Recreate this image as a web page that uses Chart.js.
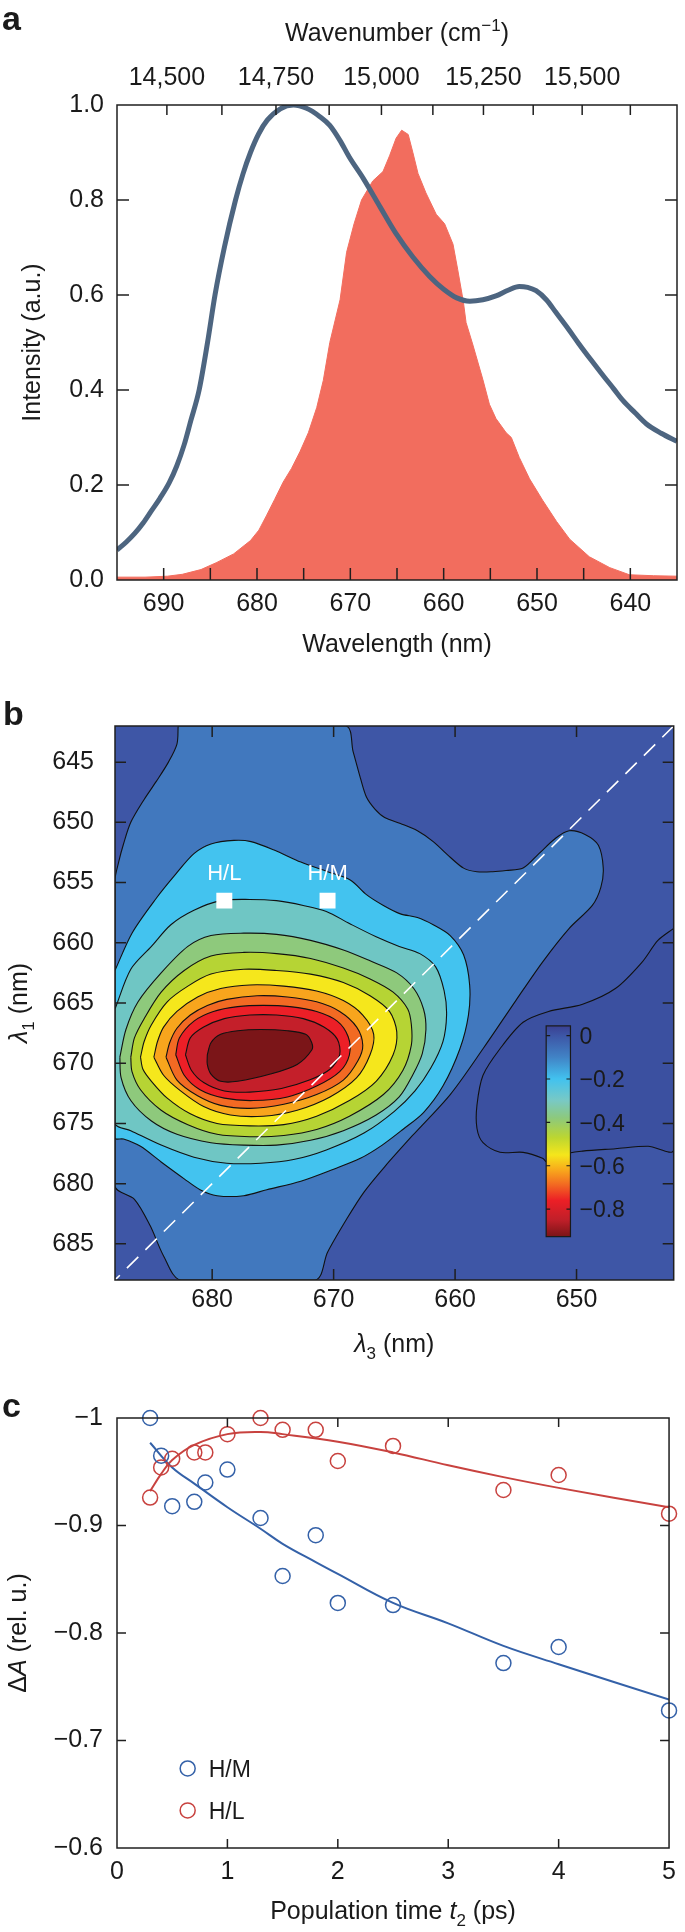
<!DOCTYPE html>
<html>
<head>
<meta charset="utf-8">
<script src="https://cdn.jsdelivr.net/npm/chart.js@4"></script>
<style>
  body { margin: 0; background: #fff; width: 685px; height: 1932px; position: relative; overflow: hidden; }
  canvas { position: absolute; left: 0; }
</style>
</head>
<body>
<canvas id="chartA" width="685" height="690" style="top:0px"></canvas>
<canvas id="chartB" width="685" height="670" style="top:690px"></canvas>
<canvas id="chartC" width="685" height="572" style="top:1360px"></canvas>
<script>
// ---------- panel a: absorption (blue) and laser spectrum (red) ----------
const absWl = [695.0, 694.0, 693.1, 692.2, 691.3, 690.4, 689.4, 688.6, 687.8, 687.1, 686.2, 685.3, 684.5, 683.5, 682.3, 681.5, 680.7, 679.8, 678.9, 677.5, 676.1, 674.7, 673.3, 672.2, 671.1, 670.1, 668.6, 666.8, 665.1, 663.3, 661.5, 660.0, 658.6, 657.2, 655.8, 654.4, 653.1, 651.9, 651.0, 650.1, 649.0, 648.0, 646.7, 645.5, 644.2, 642.9, 641.8, 640.8, 639.5, 638.3, 636.7, 635.0];
const absVal = [0.063, 0.08, 0.098, 0.12, 0.146, 0.172, 0.205, 0.24, 0.285, 0.335, 0.40, 0.50, 0.60, 0.70, 0.80, 0.855, 0.90, 0.94, 0.968, 0.992, 1.0, 0.993, 0.976, 0.957, 0.925, 0.89, 0.845, 0.785, 0.729, 0.68, 0.639, 0.612, 0.594, 0.587, 0.590, 0.598, 0.610, 0.618, 0.616, 0.609, 0.59, 0.564, 0.53, 0.497, 0.463, 0.43, 0.403, 0.378, 0.352, 0.329, 0.309, 0.292];
const laserWl = [695.0, 692.0, 689.6, 688.0, 686.0, 684.3, 682.5, 680.7, 679.8, 679.0, 678.1, 677.2, 676.3, 675.4, 674.5, 673.6, 672.9, 672.2, 671.1, 670.4, 669.6, 668.8, 667.6, 666.5, 665.8, 665.1, 664.5, 663.8, 663.3, 662.75, 661.9, 660.8, 659.9, 659.0, 658.5, 657.9, 657.6, 656.9, 655.8, 655.1, 654.4, 653.3, 652.75, 651.9, 650.8, 649.4, 647.9, 646.5, 644.4, 642.2, 640.1, 637.5, 635.0];
const laserVal = [0.006, 0.006, 0.008, 0.012, 0.022, 0.037, 0.055, 0.083, 0.105, 0.135, 0.17, 0.206, 0.235, 0.27, 0.31, 0.363, 0.42, 0.50, 0.59, 0.69, 0.75, 0.80, 0.84, 0.86, 0.893, 0.93, 0.947, 0.938, 0.90, 0.856, 0.815, 0.77, 0.75, 0.707, 0.654, 0.587, 0.542, 0.497, 0.422, 0.37, 0.34, 0.31, 0.30, 0.258, 0.213, 0.168, 0.123, 0.086, 0.049, 0.026, 0.011, 0.009, 0.008];
const wlTicks = [640, 645, 650, 655, 660, 665, 670, 675, 680, 685, 690];
const wnTicks = [14500, 14625, 14750, 14875, 15000, 15125, 15250, 15375, 15500, 15625];
const intTicks = [0, 0.2, 0.4, 0.6, 0.8, 1.0];

// ---------- panel b: 2D map, contour outlines [lambda3, lambda1] ----------
const bRange = [642, 688];
const l1Ticks = [645, 650, 655, 660, 665, 670, 675, 680, 685];
const l3Ticks = [650, 660, 670, 680];
const peakNames = ['H/L', 'H/M'];
const peakL3 = [679.0, 670.5];
const peakL1 = [656.5, 656.5];
const cbTicks = [0, -0.2, -0.4, -0.6, -0.8];

const cMid = [[682.8,642],[682.9,643.5],[683.6,645.0],[684.6,646.6],[685.6,648.1],[686.7,650.0],[687.3,651.8],[687.7,653.3],[688,654.8],[688,680.2],[686.4,681.3],[685.1,683.5],[684.0,686.0],[682.6,688],[671.5,688],[670.5,685.7],[668.9,682.9],[667.5,680.7],[665.8,678.6],[663.5,676.0],[660.4,672.6],[657.7,668.8],[655.0,664.8],[652.8,661.6],[650.6,658.8],[648.7,656.9],[648.0,655.4],[647.8,653.8],[648.2,651.9],[649.3,651.0],[650.6,650.7],[651.7,651.3],[653.1,652.6],[654.4,653.8],[655.8,654.0],[656.9,654.1],[658.2,654.1],[659.3,653.8],[660.4,652.9],[661.8,651.6],[663.1,650.7],[664.5,650.1],[665.8,649.6],[666.6,648.9],[667.3,647.9],[667.8,646.3],[668.4,644.1],[669.0,642]];
const cPos = [[642,658.8],[643.3,659.8],[644.6,661.6],[646.8,663.8],[649.5,665.1],[652.3,665.7],[654.4,666.6],[656.3,668.8],[657.7,671.0],[658.2,673.5],[658.2,675.4],[657.7,676.6],[656.3,677.4],[654.4,677.4],[652.8,677.9],[652.3,678.3],[651.2,677.6],[649.5,677.3],[646.8,677.1],[644.1,676.9],[642,677.2]];
const cCyan = [[688,662.3],[686.6,659.2],[684.6,656.3],[683.0,654.3],[681.5,652.6],[680.1,651.8],[678.2,651.5],[676.8,651.6],[674.9,652.3],[672.7,653.3],[670.5,654.1],[668.6,654.8],[667.3,656.0],[665.9,656.9],[664.5,657.6],[663.1,657.9],[661.8,658.5],[660.4,659.4],[659.3,661.0],[658.8,663.5],[658.9,666.0],[659.6,668.8],[661.0,671.9],[662.6,674.1],[664.3,675.5],[666.0,676.8],[667.8,677.9],[670.0,678.8],[672.7,679.8],[675.5,680.5],[677.4,681.0],[679.6,681.0],[681.0,680.5],[682.3,679.6],[684.2,678.2],[685.9,676.9],[687.3,676.3],[688,676.2]];
const cTeal = [[688,665.5],[686.7,662.2],[685.0,660.3],[683.4,658.5],[681.5,657.3],[679.3,656.5],[676.9,656.4],[674.7,656.5],[672.5,656.9],[670.6,657.4],[668.7,658.4],[666.5,659.5],[664.6,660.3],[662.9,660.9],[661.6,662.0],[660.9,664.0],[660.7,666.0],[661.0,668.2],[662.0,670.4],[663.3,672.3],[665.0,674.0],[667.5,675.8],[670.6,677.2],[673.3,678.0],[676.0,678.3],[678.8,678.3],[681.5,677.8],[684.2,676.8],[686.7,675.6],[688,675.0]];
const cGreen = [[687.6,669.5],[687.1,667.2],[686.1,664.9],[684.2,662.5],[682.0,660.3],[680.1,659.4],[677.4,659.2],[674.7,659.3],[671.9,659.8],[669.2,660.6],[667.0,661.5],[664.8,662.5],[663.4,663.8],[662.6,665.5],[662.4,667.2],[662.7,669.2],[663.5,671.0],[664.6,672.8],[666.5,674.3],[669.2,675.6],[671.9,676.4],[674.7,676.8],[677.4,676.8],[680.1,676.6],[682.9,675.9],[685.0,674.8],[686.7,673.1],[687.5,671.2]];
const cLime = [[686.7,669.5],[686.4,667.9],[685.6,666.3],[684.2,664.1],[682.3,662.3],[680.1,661.1],[677.4,660.8],[674.7,660.9],[671.9,661.3],[669.2,662.1],[667.0,663.0],[665.1,664.1],[663.9,665.5],[663.6,666.8],[663.6,668.5],[664.3,670.6],[665.9,672.6],[668.7,674.4],[671.4,675.5],[674.1,676.0],[676.9,676.1],[679.6,675.9],[682.0,675.1],[684.2,673.9],[685.9,672.2],[686.6,670.7]];
const cYellow = [[685.9,669.5],[685.6,668.2],[685.0,666.8],[683.7,664.9],[682.0,663.6],[680.1,662.6],[677.4,662.2],[674.7,662.3],[671.9,662.6],[669.2,663.3],[667.0,664.4],[665.4,665.7],[664.8,667.4],[665.1,669.3],[666.5,671.5],[668.7,673.1],[671.4,674.4],[674.1,675.1],[676.9,675.2],[679.6,675.0],[681.8,674.2],[683.7,672.9],[685.0,671.5],[685.7,670.5]];
const cOrange = [[684.8,669.5],[684.5,668.2],[684.0,667.0],[682.9,665.7],[681.2,664.5],[679.3,663.8],[676.9,663.5],[674.1,663.6],[671.4,664.0],[669.2,664.8],[667.6,666.0],[666.7,667.6],[667.0,669.3],[668.1,671.2],[670.3,672.8],[673.0,673.9],[675.8,674.4],[678.5,674.3],[680.7,673.6],[682.6,672.3],[684.0,671.0]];
const cDkOrange = [[683.8,669.5],[683.5,668.3],[682.9,667.1],[681.8,666.0],[680.4,665.2],[678.8,664.7],[676.3,664.4],[673.8,664.5],[671.4,664.9],[669.5,665.7],[668.1,667.0],[667.6,668.5],[668.0,669.8],[669.2,671.4],[671.4,672.6],[674.1,673.4],[676.9,673.75],[679.3,673.5],[681.2,672.7],[682.9,671.4]];
const cRed = [[683.0,669.3],[682.7,667.9],[681.5,666.5],[679.9,665.7],[677.9,665.3],[675.8,665.2],[673.6,665.3],[671.4,665.7],[669.7,666.5],[668.8,667.8],[668.7,669.3],[669.5,670.7],[671.4,671.9],[673.8,672.8],[676.6,673.1],[679.0,672.9],[681.0,672.2],[682.3,671.0]];
const cCrimson = [[682.2,669.3],[681.8,667.9],[680.7,667.0],[679.0,666.3],[676.9,666.0],[674.7,666.0],[672.5,666.3],[670.8,667.0],[669.7,668.0],[669.5,669.3],[670.3,670.5],[672.0,671.4],[674.3,672.1],[676.9,672.4],[679.0,672.3],[680.7,671.6],[681.7,670.6]];
const cCore = [[680.4,669.3],[680.1,668.3],[679.3,667.6],[677.9,667.3],[676.0,667.2],[673.8,667.3],[672.3,667.6],[671.8,668.3],[671.8,668.9],[673.0,670.1],[675.2,670.9],[677.9,671.5],[679.3,671.5],[680.1,670.9],[680.4,670.1]];

// ---------- panel c: kinetics ----------
const tPts = [0.3, 0.4, 0.5, 0.7, 0.8, 1.0, 1.3, 1.5, 1.8, 2.0, 2.5, 3.5, 4.0, 5.0];
const hmVals = [-1.0, -0.965, -0.918, -0.922, -0.940, -0.952, -0.907, -0.853, -0.891, -0.828, -0.826, -0.772, -0.787, -0.728];
const hlVals = [-0.926, -0.954, -0.962, -0.968, -0.968, -0.985, -1.0, -0.989, -0.989, -0.960, -0.974, -0.933, -0.947, -0.911];
const hmFitT = [0.3, 0.5, 0.7, 1.0, 1.3, 1.5, 1.8, 2.0, 2.5, 3.0, 3.5, 4.0, 5.0];
const hmFit = [-0.977, -0.954, -0.939, -0.917, -0.897, -0.883, -0.866, -0.855, -0.828, -0.809, -0.788, -0.771, -0.738];
const hlFitT = [0.3, 0.4, 0.5, 0.7, 1.0, 1.3, 1.5, 2.0, 2.5, 3.0, 3.5, 4.0, 5.0];
const hlFit = [-0.932, -0.948, -0.961, -0.975, -0.985, -0.987, -0.985, -0.978, -0.968, -0.956, -0.945, -0.935, -0.917];
const seriesNames = ['H/M', 'H/L'];

// ---------- shared setup ----------
const FONT = '"Liberation Sans", Arial, Helvetica, sans-serif';
Chart.defaults.font.family = FONT;
Chart.defaults.font.size = 25;
Chart.defaults.color = '#1a1a1a';
Chart.defaults.animation = false;
Chart.defaults.responsive = false;
Chart.defaults.plugins.legend.display = false;
Chart.defaults.plugins.tooltip.enabled = false;

const BLUE = '#3461a8', RED = '#c8423f';

function pts(xs, ys) { return xs.map((x, i) => ({ x, y: ys[i] })); }
function loop(pairs) { const d = pairs.map(p => ({ x: p[0], y: p[1] })); d.push(d[0]); return d; }

// text with italic / sub / superscript parts: [text, flags] flags: I B _ ^
function rich(ctx, x, y, parts, size, align, rot) {
  size = size || 25; align = align || 'center';
  const segs = parts.map(p => {
    const t = Array.isArray(p) ? p[0] : p, f = Array.isArray(p) ? (p[1] || '') : '';
    const small = f.includes('_') || f.includes('^');
    const font = (f.includes('I') ? 'italic ' : '') + (f.includes('B') ? 'bold ' : '') + (small ? size * 0.68 : size) + 'px ' + FONT;
    ctx.font = font;
    return { t, font, w: ctx.measureText(t).width, dy: f.includes('_') ? size * 0.28 : f.includes('^') ? -size * 0.4 : 0 };
  });
  const total = segs.reduce((s, g) => s + g.w, 0);
  ctx.save();
  ctx.translate(x, y);
  if (rot) ctx.rotate(rot);
  ctx.textBaseline = 'alphabetic';
  ctx.textAlign = 'left';
  let cx = align === 'center' ? -total / 2 : align === 'right' ? -total : 0;
  segs.forEach(g => { ctx.font = g.font; ctx.fillText(g.t, cx, size * 0.36 + g.dy); cx += g.w; });
  ctx.restore();
}

// frame + inward tick marks
function frame(spec) {
  return {
    id: 'frame',
    afterDatasetsDraw(chart) {
      const { ctx, chartArea: a } = chart;
      ctx.save();
      ctx.strokeStyle = '#1f1f1f';
      ctx.lineWidth = 1.5;
      ctx.beginPath();
      spec.forEach(t => {
        const s = chart.scales[t.scale];
        s.ticks.forEach(tk => {
          const p = s.getPixelForValue(tk.value);
          if (s.isHorizontal()) {
            if (p < a.left + 2 || p > a.right - 2) return;
            t.sides.forEach(side => {
              const y0 = side === 'top' ? a.top : a.bottom;
              ctx.moveTo(p, y0); ctx.lineTo(p, side === 'top' ? y0 + t.len : y0 - t.len);
            });
          } else {
            if (p < a.top + 2 || p > a.bottom - 2) return;
            t.sides.forEach(side => {
              const x0 = side === 'left' ? a.left : a.right;
              ctx.moveTo(x0, p); ctx.lineTo(side === 'left' ? x0 + t.len : x0 - t.len, p);
            });
          }
        });
      });
      ctx.stroke();
      ctx.strokeRect(a.left, a.top, a.width, a.height);
      ctx.restore();
    }
  };
}
function notes(fn) { return { id: 'notes', afterDraw(chart) { chart.ctx.save(); chart.ctx.fillStyle = '#1a1a1a'; fn(chart, chart.ctx); chart.ctx.restore(); } }; }

const hideGrid = { display: false, drawTicks: false };
const noBorder = { display: false };

// ---------- chart a ----------
new Chart(document.getElementById('chartA'), {
  type: 'line',
  data: {
    datasets: [
      { data: pts(absWl, absVal), borderColor: '#4d6580', borderWidth: 5, pointRadius: 0, cubicInterpolationMode: 'monotone', fill: false },
      { data: pts(laserWl, laserVal), borderColor: '#f26d5e', backgroundColor: '#f26d5e', borderWidth: 1, pointRadius: 0, tension: 0, fill: 'origin' }
    ]
  },
  options: {
    layout: { padding: { left: 0, right: 8, top: 0, bottom: 0 } },
    scales: {
      x: {
        type: 'linear', position: 'bottom', min: 635, max: 695, reverse: true,
        afterBuildTicks: s => { s.ticks = wlTicks.map(v => ({ value: v })); },
        afterFit: s => { s.height = 110; },
        grid: hideGrid, border: noBorder,
        ticks: { padding: 9, autoSkip: false, maxRotation: 0, callback: v => (v % 10 === 0 ? String(v) : '') }
      },
      x2: {
        type: 'linear', position: 'top', min: 635, max: 695, reverse: true,
        afterBuildTicks: s => { s.ticks = wnTicks.map(w => ({ value: 1e7 / w })); },
        afterFit: s => { s.height = 105; },
        grid: hideGrid, border: noBorder,
        ticks: { padding: 12, autoSkip: false, maxRotation: 0, callback: (v, i) => (wnTicks[i] % 250 === 0 ? wnTicks[i].toLocaleString('en-US') : '') }
      },
      y: {
        type: 'linear', min: 0, max: 1,
        afterBuildTicks: s => { s.ticks = intTicks.map(v => ({ value: v })); },
        afterFit: s => { s.width = 117; },
        grid: hideGrid, border: noBorder,
        ticks: { padding: 13, callback: v => v.toFixed(1) }
      }
    }
  },
  plugins: [
    frame([{ scale: 'x', sides: ['bottom'], len: 12 }, { scale: 'x2', sides: ['top'], len: 10 }, { scale: 'y', sides: ['left', 'right'], len: 12 }]),
    notes((chart, ctx) => {
      const a = chart.chartArea, cx = (a.left + a.right) / 2;
      rich(ctx, 2, 18, [['a', 'B']], 34, 'left');
      rich(ctx, cx, 32, ['Wavenumber (cm', ['\u22121', '^'], ')']);
      rich(ctx, cx, 643, ['Wavelength (nm)']);
      rich(ctx, 31, (a.top + a.bottom) / 2, ['Intensity (a.u.)'], 25, 'center', -Math.PI / 2);
    })
  ]
});

// ---------- chart b ----------
const bands = [
  [cCore, '#7b1518'], [cCrimson, '#c41f2a'], [cRed, '#ec1f27'], [cDkOrange, '#f26a23'],
  [cOrange, '#f8a51d'], [cYellow, '#f5e71c'], [cLime, '#b6d434'], [cGreen, '#8ec97c'],
  [cTeal, '#6fc6c4'], [cCyan, '#43c3ef'], [cPos, '#3b50a0'], [cMid, '#4178be']
];
const cbStops = [[0.045, '#3a4092'], [0, '#3d56a6'], [-0.1, '#4183c6'], [-0.2, '#42c2ef'], [-0.3, '#79c9c4'], [-0.38, '#8dc97c'], [-0.47, '#bcd631'], [-0.55, '#f5e61b'], [-0.62, '#f8a81c'], [-0.68, '#f37021'], [-0.76, '#ec1f26'], [-0.85, '#c01f29'], [-0.927, '#7a1417']];

new Chart(document.getElementById('chartB'), {
  type: 'line',
  data: {
    datasets: [
      { data: bRange.map(v => ({ x: v, y: v })), borderColor: '#ffffff', borderWidth: 1.6, borderDash: [16, 10], pointRadius: 0, fill: false },
      { data: pts(peakL3, peakL1), showLine: false, pointStyle: 'rect', pointRadius: 11.3, pointBackgroundColor: '#ffffff', pointBorderWidth: 0 }
    ].concat(bands.map(([c, col]) => ({
      data: loop(c), borderColor: '#111', borderWidth: 1.1, backgroundColor: col, fill: 'shape', pointRadius: 0, tension: 0.3
    })))
  },
  options: {
    layout: { padding: { left: 0, right: 8, top: 28, bottom: 0 } },
    scales: {
      x: {
        type: 'linear', min: bRange[0], max: bRange[1], reverse: true,
        afterBuildTicks: s => { s.ticks = l3Ticks.map(v => ({ value: v })); },
        afterFit: s => { s.height = 80; },
        grid: hideGrid, border: noBorder,
        ticks: { padding: 5, autoSkip: false, maxRotation: 0, callback: v => String(v) }
      },
      y: {
        type: 'linear', min: bRange[0], max: bRange[1], reverse: true,
        afterBuildTicks: s => { s.ticks = l1Ticks.map(v => ({ value: v })); },
        afterFit: s => { s.width = 115; },
        grid: hideGrid, border: noBorder,
        ticks: { padding: 21, autoSkip: false, callback: v => String(v) }
      }
    }
  },
  plugins: [
    { id: 'bg', beforeDatasetsDraw(chart) { const { ctx, chartArea: a } = chart; ctx.save(); ctx.fillStyle = '#3e56a6'; ctx.fillRect(a.left, a.top, a.width, a.height); ctx.restore(); } },
    frame([{ scale: 'x', sides: ['bottom', 'top'], len: 11 }, { scale: 'y', sides: ['left', 'right'], len: 11 }]),
    notes((chart, ctx) => {
      const a = chart.chartArea, sx = chart.scales.x, sy = chart.scales.y;
      rich(ctx, 3, 23, [['b', 'B']], 34, 'left');
      rich(ctx, 18, (a.top + a.bottom) / 2, [['\u03bb', 'I'], ['1', '_'], ' (nm)'], 25, 'center', -Math.PI / 2);
      rich(ctx, (a.left + a.right) / 2, 653, [['\u03bb', 'I'], ['3', '_'], ' (nm)']);
      // peak labels
      ctx.fillStyle = '#ffffff';
      peakNames.forEach((n, i) => rich(ctx, sx.getPixelForValue(peakL3[i]), sy.getPixelForValue(peakL1[i]) - 29, [n], 22));
      // colour bar
      const x0 = sx.getPixelForValue(652.5), x1 = sx.getPixelForValue(650.5);
      const y0 = sy.getPixelForValue(666.9), y1 = sy.getPixelForValue(684.4);
      const vTop = cbStops[0][0], vBot = cbStops[cbStops.length - 1][0];
      const vy = v => y0 + (vTop - v) / (vTop - vBot) * (y1 - y0);
      const g = ctx.createLinearGradient(0, y0, 0, y1);
      cbStops.forEach(([v, c]) => g.addColorStop((vTop - v) / (vTop - vBot), c));
      ctx.fillStyle = g;
      ctx.fillRect(x0, y0, x1 - x0, y1 - y0);
      ctx.strokeStyle = '#1a1a1a'; ctx.lineWidth = 1.2;
      ctx.strokeRect(x0, y0, x1 - x0, y1 - y0);
      ctx.beginPath();
      cbTicks.forEach(v => { const y = vy(v); ctx.moveTo(x1, y); ctx.lineTo(x1 - 4, y); ctx.moveTo(x0, y); ctx.lineTo(x0 + 4, y); });
      ctx.stroke();
      ctx.fillStyle = '#1a1a1a';
      cbTicks.forEach(v => rich(ctx, x1 + 9, vy(v), [v === 0 ? '0' : '\u2212' + Math.abs(v).toFixed(1)], 23, 'left'));
    })
  ]
});

// ---------- chart c ----------
new Chart(document.getElementById('chartC'), {
  type: 'line',
  data: {
    datasets: [
      { data: pts(tPts, hmVals), showLine: false, pointStyle: 'circle', pointRadius: 7.5, pointBorderWidth: 1.5, pointBorderColor: BLUE, pointBackgroundColor: 'rgba(0,0,0,0)', clip: false },
      { data: pts(tPts, hlVals), showLine: false, pointStyle: 'circle', pointRadius: 7.5, pointBorderWidth: 1.5, pointBorderColor: RED, pointBackgroundColor: 'rgba(0,0,0,0)', clip: false },
      { data: pts(hmFitT, hmFit), borderColor: BLUE, borderWidth: 2, pointRadius: 0, tension: 0.4, fill: false },
      { data: pts(hlFitT, hlFit), borderColor: RED, borderWidth: 2, pointRadius: 0, tension: 0.4, fill: false }
    ]
  },
  options: {
    layout: { padding: { left: 0, right: 8, top: 58, bottom: 0 } },
    scales: {
      x: {
        type: 'linear', min: 0, max: 5,
        ticks: { stepSize: 1, padding: 9, maxRotation: 0, autoSkip: false },
        afterFit: s => { s.height = 84; },
        grid: hideGrid, border: noBorder
      },
      y: {
        type: 'linear', min: -1, max: -0.6, reverse: true,
        ticks: { stepSize: 0.1, padding: 14, callback: v => (Math.abs(v + 1) < 1e-9 ? '\u22121' : '\u2212' + Math.abs(v).toFixed(1)) },
        afterFit: s => { s.width = 117; },
        grid: hideGrid, border: noBorder
      }
    }
  },
  plugins: [
    frame([{ scale: 'x', sides: ['bottom', 'top'], len: 9 }, { scale: 'y', sides: ['left', 'right'], len: 9 }]),
    notes((chart, ctx) => {
      const a = chart.chartArea, sx = chart.scales.x, sy = chart.scales.y;
      rich(ctx, 2, 45, [['c', 'B']], 34, 'left');
      rich(ctx, 17, (a.top + a.bottom) / 2, ['\u0394', ['A', 'I'], ' (rel. u.)'], 25, 'center', -Math.PI / 2);
      rich(ctx, (a.left + a.right) / 2, 550, ['Population time ', ['t', 'I'], ['2', '_'], ' (ps)']);
      // legend
      [[BLUE, -0.674], [RED, -0.635]].forEach(([col, v], i) => {
        const x = sx.getPixelForValue(0.64), y = sy.getPixelForValue(v);
        ctx.strokeStyle = col; ctx.lineWidth = 1.5;
        ctx.beginPath(); ctx.arc(x, y, 7.5, 0, Math.PI * 2); ctx.stroke();
        ctx.fillStyle = '#1a1a1a';
        rich(ctx, x + 21, y, [seriesNames[i]], 23, 'left');
      });
    })
  ]
});
</script>
</body>
</html>
